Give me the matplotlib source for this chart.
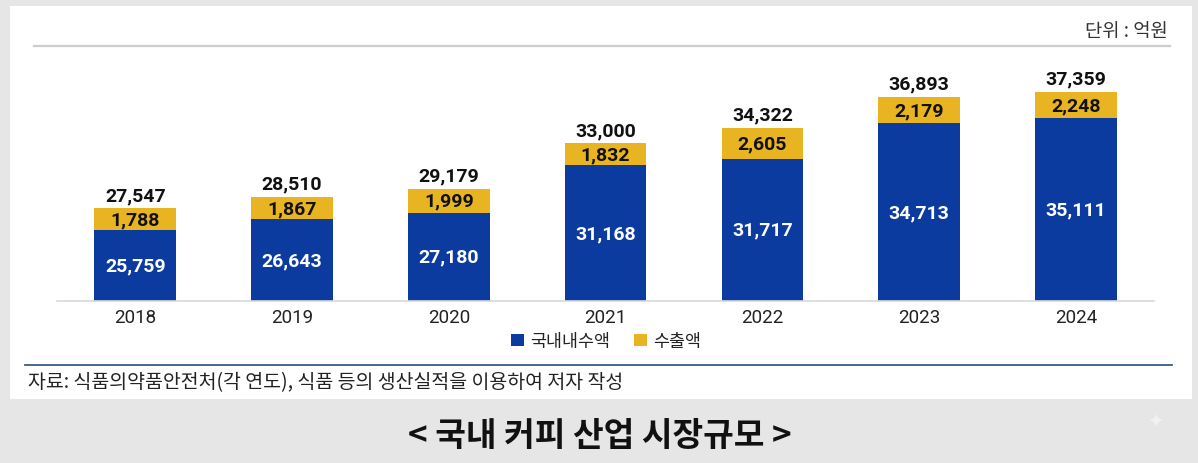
import matplotlib
matplotlib.use("Agg")
import matplotlib.pyplot as plt
from matplotlib.patches import Rectangle, Patch
from matplotlib.lines import Line2D

years = ["2018", "2019", "2020", "2021", "2022", "2023", "2024"]
domestic = [25759, 26643, 27180, 31168, 31717, 34713, 35111]
export = [1788, 1867, 1999, 1832, 2605, 2179, 2248]
totals = [27547, 28510, 29179, 33000, 34322, 36893, 37359]
series_names = ["국내내수액", "수출액"]
unit_text = "단위 : 억원"
source_text = "자료: 식품의약품안전처(각 연도), 식품 등의 생산실적을 이용하여 저자 작성"
title_text = "< 국내 커피 산업 시장규모 >"

BLUE = "#0b3b9e"
GOLD = "#e9b422"
KR = ["Noto Sans CJK KR", "DejaVu Sans"]
NUM = ["Roboto", "Noto Sans CJK KR", "DejaVu Sans"]

W, H = 1198, 464
fig = plt.figure(figsize=(W / 100, H / 100), dpi=100)
fig.patch.set_facecolor("#e6e6e6")

def fx(px):
    return px / W

def fy(py):
    return 1 - py / H

# white panel
fig.patches.append(Rectangle((fx(10), fy(400)), fx(1192) - fx(10), fy(7) - fy(400),
                             transform=fig.transFigure, facecolor="white", edgecolor="none", zorder=-5))
# top gray rule
fig.lines.append(Line2D([fx(34), fx(1170)], [fy(47), fy(47)], transform=fig.transFigure,
                        color="#cccccc", linewidth=1.6, zorder=-4))
# bottom navy rule
fig.lines.append(Line2D([fx(25), fx(1172)], [fy(366), fy(366)], transform=fig.transFigure,
                        color="#3d5a8c", linewidth=1.3, zorder=-4))

fig.text(fx(1168), fy(32), unit_text, ha="right", va="center", fontsize=13.5, color="#333333", family=KR)
fig.text(fx(28), fy(383), source_text, ha="left", va="center", fontsize=14, color="#222222", family=KR)
fig.text(fx(600), fy(437), title_text, ha="center", va="center", fontsize=24, fontweight="bold",
         color="#111111", family=KR)
fig.text(fx(1155), fy(421), "✦", ha="center", va="center", fontsize=14, color="#f2f2f2",
         family=["DejaVu Sans"])

# axes
ax_left, ax_right, ax_top, ax_bottom = 56.8, 1154.4, 60, 302
ax = fig.add_axes([fx(ax_left), fy(ax_bottom), fx(ax_right) - fx(ax_left), fy(ax_top) - fy(ax_bottom)])
ax.set_zorder(2)
ax.set_facecolor("none")
ymin = 19760
ymax = ymin + (ax_bottom - ax_top) / 0.0119
ax.set_ylim(ymin, ymax)
ax.set_xlim(-0.5, len(years) - 0.5)

x = list(range(len(years)))
width = 0.52
ax.bar(x, domestic, width=width, color=BLUE, zorder=2)
ax.bar(x, export, width=width, bottom=domestic, color=GOLD, zorder=2)

for i in x:
    d, e, t = domestic[i], export[i], totals[i]
    ax.text(i, (ymin + d) / 2, f"{d:,}", ha="center", va="center", color="white",
            fontsize=14, fontweight="bold", family=NUM)
    ax.text(i, d + e / 2, f"{e:,}", ha="center", va="center", color="#111111",
            fontsize=14, fontweight="bold", family=NUM)
    ax.annotate(f"{t:,}", (i, t), xytext=(0, 9.5), textcoords="offset points",
                ha="center", va="center", color="#111111", fontsize=14, fontweight="bold", family=NUM)

for s in ["top", "right", "left"]:
    ax.spines[s].set_visible(False)
ax.spines["bottom"].set_color("#d9d9d9")
ax.spines["bottom"].set_linewidth(1.2)
ax.set_yticks([])
ax.set_xticks(x)
ax.set_xticklabels(years, fontsize=13.5, color="#222222", family=NUM)
ax.tick_params(axis="x", length=0, pad=5)

handles = [Patch(facecolor=BLUE, edgecolor="none"), Patch(facecolor=GOLD, edgecolor="none")]
leg = fig.legend(handles, series_names, loc="center", bbox_to_anchor=(fx(606), fy(342)),
                 ncol=2, frameon=False, handlelength=0.75, handleheight=0.75, handletextpad=0.35,
                 columnspacing=1.4, prop={"family": KR, "size": 12.5})
for t in leg.get_texts():
    t.set_color("#222222")

fig.savefig("out.png", dpi=100, facecolor=fig.get_facecolor())
